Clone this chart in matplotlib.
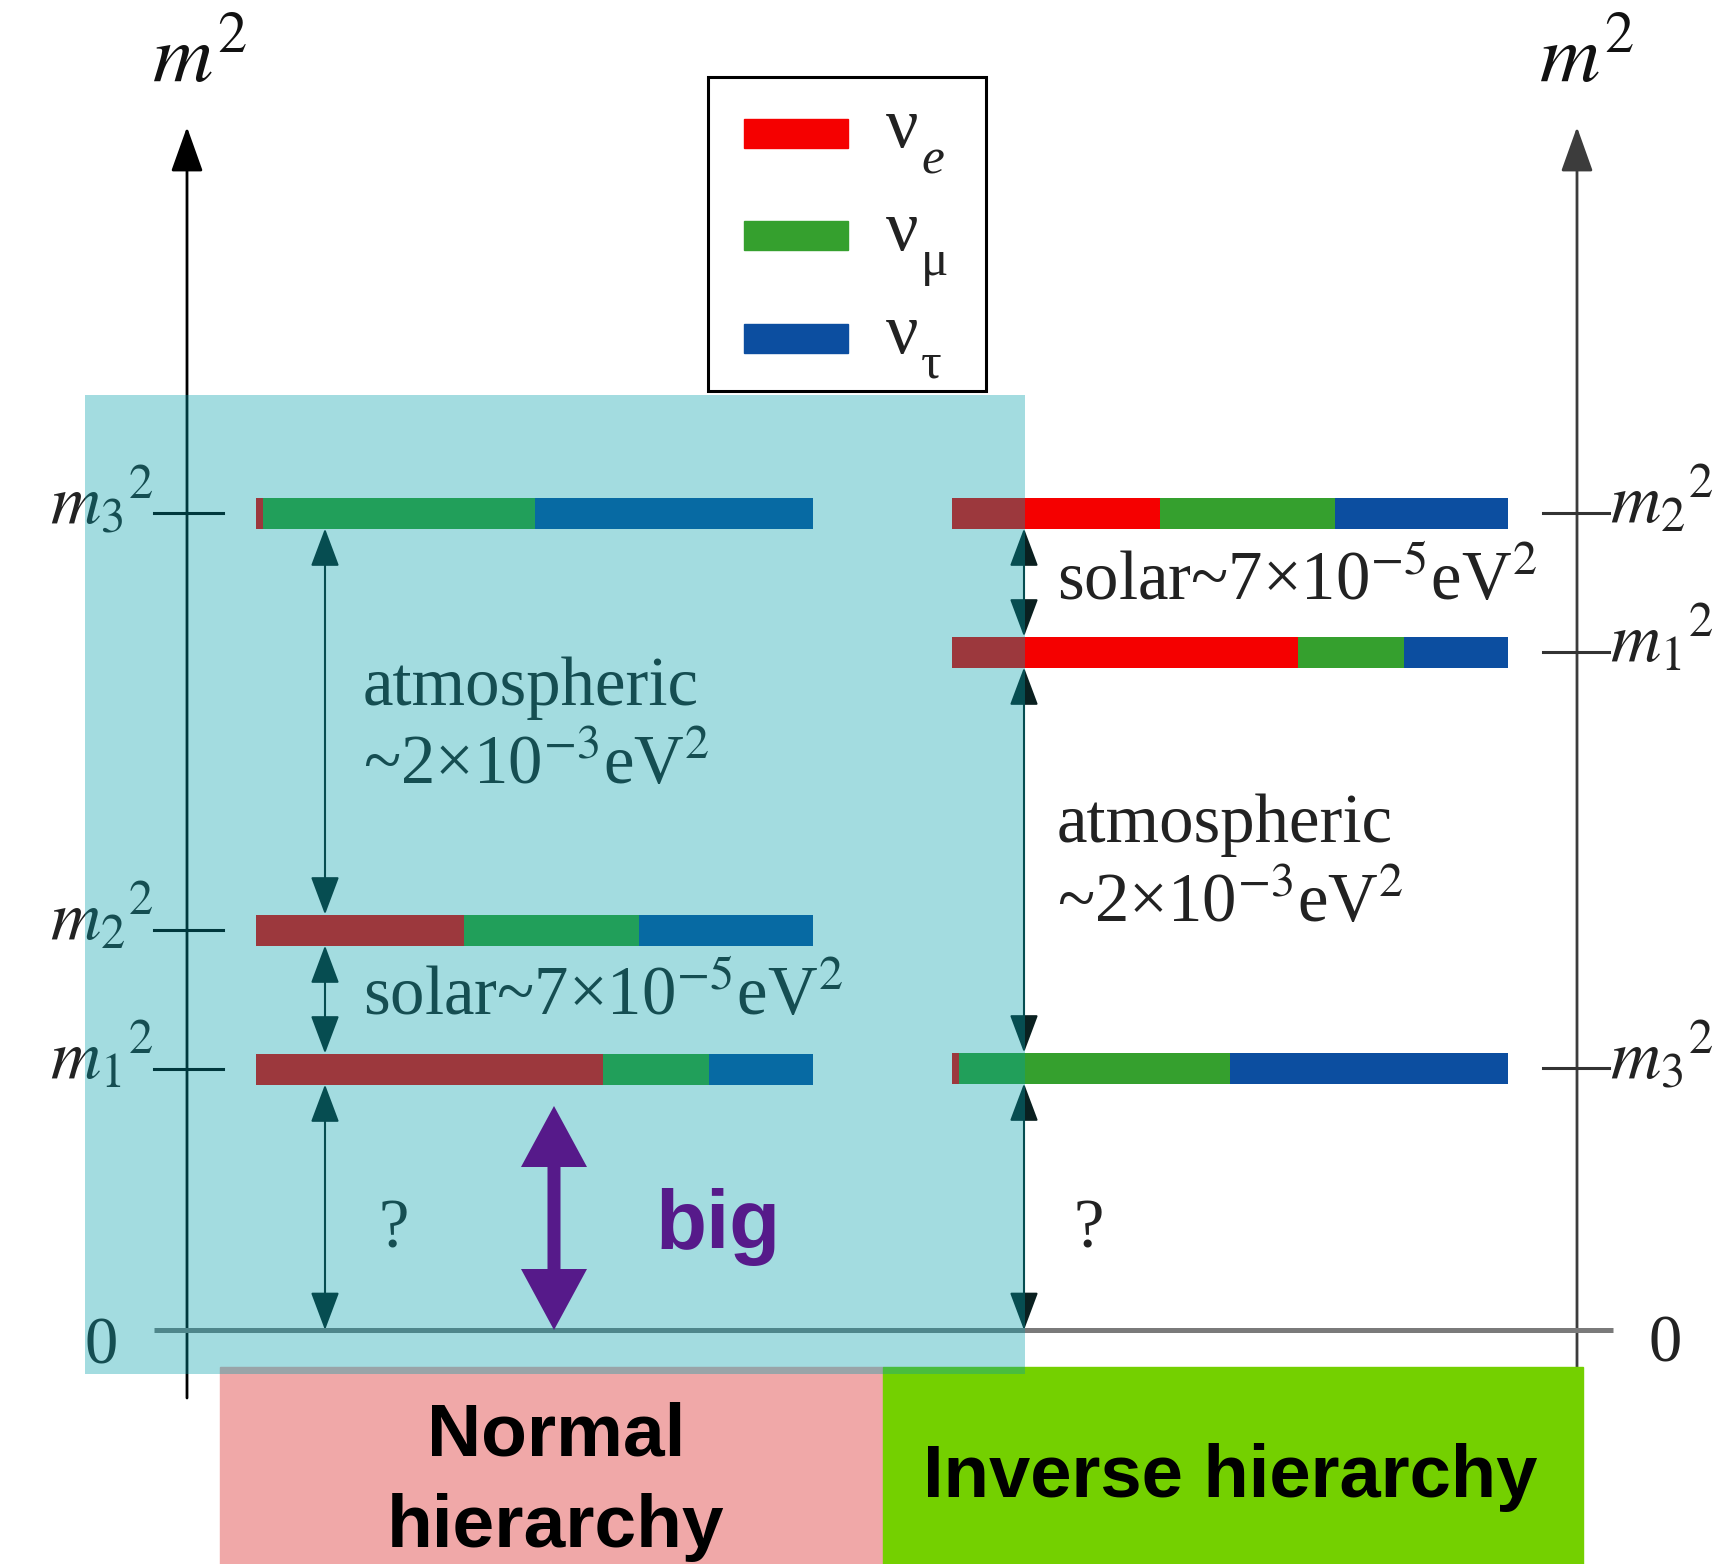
import matplotlib.pyplot as plt
from matplotlib.patches import Rectangle, FancyArrow

plt.rcParams["font.family"] = ["Liberation Serif", "DejaVu Serif"]
plt.rcParams["mathtext.fontset"] = "stix"

# flavour colours: nu_e, nu_mu, nu_tau
flavour_names = ["e", "μ", "τ"]
flavour_colors = ["#f50000", "#35a02e", "#0c4ea0"]

# flavour content of each mass state (nu_e, nu_mu, nu_tau)
mass_states = ["m1", "m2", "m3"]
mix = {
    "m1": [0.623, 0.19, 0.187],
    "m2": [0.374, 0.314, 0.312],
    "m3": [0.013, 0.487, 0.50],
}
state_labels = {"m1": r"$m_1{}^2$", "m2": r"$m_2{}^2$", "m3": r"$m_3{}^2$"}

# schematic m^2 levels above zero (picture units)
normal_levels = {"m1": 261, "m2": 400, "m3": 817}
inverse_levels = {"m1": 678, "m2": 817, "m3": 262}

atm_text = ["atmospheric", r"~2×10$^{-3}$eV$^2$"]
solar_text = r"solar~7×10$^{-5}$eV$^2$"

# layout (picture units)
bar_h = 31
normal_x = (256, 813)
inverse_x = (952, 1508)

fig = plt.figure(figsize=(17.26, 15.64), dpi=100)
ax = fig.add_axes([0, 0, 1, 1])
ax.set_xlim(0, 1726)
ax.set_ylim(-234, 1330)
ax.axis("off")

# m^2 axes
axis_head = "-|>,head_length=1.4,head_width=0.5"
ax.annotate("", xy=(187, 1203), xytext=(187, -68),
            arrowprops=dict(arrowstyle=axis_head, mutation_scale=20, lw=2,
                            color="black", shrinkA=0, shrinkB=0), zorder=2)
ax.annotate("", xy=(1577, 1203), xytext=(1577, -60),
            arrowprops=dict(arrowstyle=axis_head, mutation_scale=20, lw=2,
                            color="#3c3c3c", shrinkA=0, shrinkB=0), zorder=2)
ax.text(152, 1247, r"$m^2$", fontsize=60, va="baseline", ha="left", color="#111111")
ax.text(1539, 1247, r"$m^2$", fontsize=60, va="baseline", ha="left", color="#111111")

# zero line
ax.plot([154, 1613], [0, 0], color="#7a7a7a", lw=3.6, zorder=2, solid_capstyle="butt")
ax.text(101, -33, "0", fontsize=48, ha="center", va="baseline", color="#222222")
ax.text(1665, -31, "0", fontsize=48, ha="center", va="baseline", color="#222222")


def draw_levels(levels, x0, x1, tick_x, label_x, label_ha, axis_color):
    width = x1 - x0
    for st in mass_states:
        y = levels[st]
        left = x0
        for frac, col in zip(mix[st], flavour_colors):
            ax.barh(y, frac * width, left=left, height=bar_h, color=col, zorder=2)
            left += frac * width
        ax.plot(tick_x, [y, y], color=axis_color, lw=2.2, zorder=2)
        ax.text(label_x, y - 10, state_labels[st], fontsize=50, ha=label_ha,
                va="baseline", color="#222222")


draw_levels(normal_levels, *normal_x, (154, 223), 154, "right", "black")
draw_levels(inverse_levels, *inverse_x, (1543, 1609), 1610, "left", "#333333")

# splitting arrows
gap_head = "<|-|>,head_length=1.2,head_width=0.45"


def gap_arrow(x, y_top, y_bot):
    ax.annotate("", xy=(x, y_top), xytext=(x, y_bot),
                arrowprops=dict(arrowstyle=gap_head, mutation_scale=20, lw=1.5,
                                color="#0a2020", shrinkA=0, shrinkB=0), zorder=3)


hb = bar_h / 2
n, i = normal_levels, inverse_levels
gap_arrow(325, n["m3"] - hb, n["m2"] + hb)
gap_arrow(325, n["m2"] - hb, n["m1"] + hb)
gap_arrow(325, n["m1"] - hb, 0)
gap_arrow(1024, i["m2"] - hb, i["m1"] + hb)
gap_arrow(1024, i["m1"] - hb, i["m3"] + hb)
gap_arrow(1024, i["m3"] - hb, 0)

txt = dict(fontsize=49.5, va="baseline", ha="left", color="#222222")
ax.text(363, 625, atm_text[0], **txt)
ax.text(363, 546, atm_text[1], **txt)
ax.text(363, 315, solar_text, **txt)
ax.text(378, 83, "?", **txt)
ax.text(1057, 730, solar_text, **txt)
ax.text(1057, 488, atm_text[0], **txt)
ax.text(1057, 408, atm_text[1], **txt)
ax.text(1073, 83, "?", **txt)

# legend
ax.add_patch(Rectangle((708, 939), 278, 314, fill=False, ec="black", lw=2.2, zorder=3))
for k, (name, col) in enumerate(zip(flavour_names, flavour_colors)):
    yc = 1197 - k * 102.5
    ax.add_patch(Rectangle((744, yc - 14.5), 104, 29, color=col, zorder=3))
    ax.text(886, yc - 14.5, "ν", fontsize=52, va="baseline", ha="left", color="#222222")
    ax.text(921, yc - 40, name, fontsize=37, va="baseline", ha="left", color="#222222",
            style="italic" if name == "e" else "normal")

# hierarchy boxes
ax.add_patch(Rectangle((220, -234), 663, 197, color="#f0a8a8", zorder=4))
ax.add_patch(Rectangle((883, -234), 700, 197, color="#74d000", zorder=4))

# highlight over normal hierarchy
ax.add_patch(Rectangle((85, -44), 940, 979, color=(0, 158 / 255, 170 / 255),
                       alpha=0.36, lw=0, zorder=5))

bold = dict(family=["Liberation Sans", "DejaVu Sans"], weight="bold", zorder=6)
ax.text(556, -125, "Normal", fontsize=54, ha="center", va="baseline", **bold)
ax.text(556, -217, "hierarchy", fontsize=54, ha="center", va="baseline", **bold)
ax.text(1230, -167, "Inverse hierarchy", fontsize=53.5, ha="center", va="baseline", **bold)

# "big" arrow
purple = "#561a8a"
mid = 112
for dy in (112, -112):
    ax.add_patch(FancyArrow(554, mid, 0, dy, width=13, head_width=66, head_length=61,
                            length_includes_head=True, color=purple, lw=0, zorder=6))
ax.text(655, 81, "big", fontsize=60, ha="left", va="baseline", color=purple, **bold)

fig.savefig("out.png", dpi=100)
